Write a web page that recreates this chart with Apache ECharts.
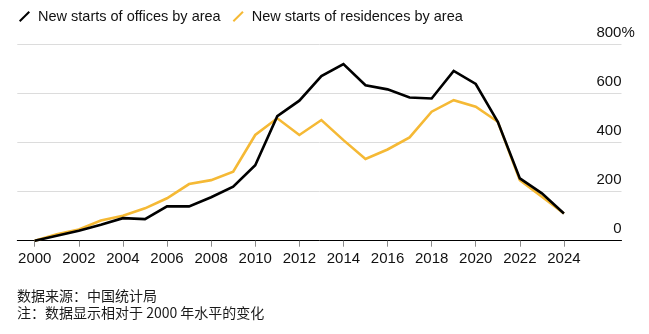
<!DOCTYPE html>
<html>
<head>
<meta charset="utf-8">
<style>
  html, body { margin: 0; padding: 0; background: #fff; }
  #chart { width: 649px; height: 334px; }
</style>
<script src="https://cdn.jsdelivr.net/npm/echarts@6/dist/echarts.min.js"></script>
</head>
<body>
<div id="chart"></div>
<script>
// Years shown on the axis
const years = [2000, 2001, 2002, 2003, 2004, 2005, 2006, 2007, 2008, 2009, 2010, 2011, 2012,
               2013, 2014, 2015, 2016, 2017, 2018, 2019, 2020, 2021, 2022, 2023, 2024];
const yearTicks = [2000, 2002, 2004, 2006, 2008, 2010, 2012, 2014, 2016, 2018, 2020, 2022, 2024];

// Change in new starts by floor area, % relative to 2000
const officeStarts = [0, 20, 41, 65, 92, 88, 140, 140, 177, 220, 308, 508, 571,
                      671, 720, 634, 617, 584, 580, 692, 639, 485, 254, 193, 111];
const residenceStarts = [0, 26, 46, 82, 102, 132, 173, 231, 247, 281, 431, 499, 431,
                         492, 410, 333, 372, 421, 526, 573, 546, 485, 247, 179, 111];

const seriesNames = ['New starts of offices by area', 'New starts of residences by area'];
const notes = ['数据来源：中国统计局', '注：数据显示相对于 2000 年水平的变化'];

const LATIN = "'Liberation Sans', Arial, Helvetica, sans-serif";
const CJK = "'Noto Sans CJK SC', 'Liberation Sans', sans-serif";
const YELLOW = '#f5b935';
const slash = 'path://M0,9.6 L9.6,0 L11,1.4 L1.4,11 Z';

// Number column width for the right-hand value labels; the top label's "%" hangs past it
const NUM_W = 34;
const PCT_W = 13.3;

const pairs = (vals) => years.map((y, i) => [y, vals[i]]);

const chart = echarts.init(document.getElementById('chart'), null, { renderer: 'canvas' });
chart.setOption({
  animation: false,
  backgroundColor: '#fff',
  textStyle: { fontFamily: LATIN },
  grid: { left: 17.3, right: 27.5, top: 44.5, bottom: 93.3, containLabel: false },
  legend: {
    left: 14, top: 4,
    itemWidth: 11, itemHeight: 12, itemGap: 12,
    textStyle: { fontFamily: LATIN, fontSize: 14.5, color: '#111', padding: [0, 0, 0, 3] },
    data: [
      { name: seriesNames[0], icon: slash, itemStyle: { color: '#000' } },
      { name: seriesNames[1], icon: slash, itemStyle: { color: YELLOW } }
    ]
  },
  xAxis: {
    type: 'value',
    min: 1999.21, max: 2026.61,
    splitLine: { show: false },
    axisLine: { show: true, lineStyle: { color: '#000', width: 1 } },
    axisTick: { show: true, length: 6, customValues: yearTicks, lineStyle: { color: '#8a8a8a', width: 1 } },
    axisLabel: {
      customValues: yearTicks,
      formatter: (v) => String(v),
      fontFamily: LATIN, fontSize: 15, color: '#111', margin: 11
    }
  },
  yAxis: {
    type: 'value',
    position: 'right',
    min: 0, max: 800, interval: 200,
    axisLine: { show: false },
    axisTick: { show: false },
    splitLine: { show: true, lineStyle: { color: '#dcdcdc', width: 1 } },
    axisLabel: {
      inside: true,
      margin: NUM_W,
      align: 'left',
      verticalAlign: 'bottom',
      padding: [0, 0, 4, 0],
      formatter: (v) => v === 800 ? '{top|' + v + '%}' : '{n|' + v + '}',
      rich: {
        n: { width: NUM_W, align: 'right', fontFamily: LATIN, fontSize: 15, color: '#111' },
        top: { width: NUM_W + PCT_W, align: 'right', fontFamily: LATIN, fontSize: 15, color: '#111' }
      }
    }
  },
  series: [
    {
      name: seriesNames[1], type: 'line', data: pairs(residenceStarts),
      symbol: 'none', z: 2,
      lineStyle: { color: YELLOW, width: 2.6, join: 'miter' },
      itemStyle: { color: YELLOW }
    },
    {
      name: seriesNames[0], type: 'line', data: pairs(officeStarts),
      symbol: 'none', z: 3,
      lineStyle: { color: '#000', width: 2.6, join: 'miter' },
      itemStyle: { color: '#000' }
    }
  ],
  graphic: notes.map((t, i) => ({
    type: 'text',
    left: 17, top: 289 + i * 17,
    style: { text: t, font: '14px ' + CJK, fill: '#1a1a1a' }
  }))
});
</script>
</body>
</html>
